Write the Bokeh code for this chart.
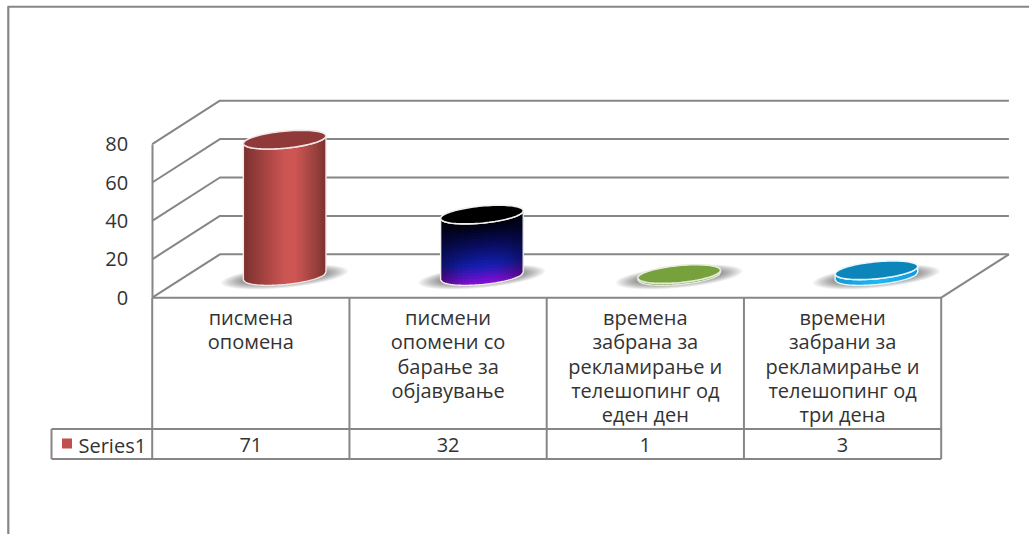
import numpy as np
from bokeh.plotting import figure
from bokeh.embed import file_html
from bokeh.resources import INLINE
from bokeh.core.properties import value
from bokeh.models import LinearAxis, FixedTicker, Range1d

# ---- data ----
categories = ["писмена\nопомена",
              "писмени\nопомени со\nбарање за\nобјавување",
              "времена\nзабрана за\nрекламирање и\nтелешопинг од\nеден ден",
              "времени\nзабрани за\nрекламирање и\nтелешопинг од\nтри дена"]
series_name = "Series1"
series_values = [71, 32, 1, 3]
y_ticks = [0, 20, 40, 60, 80]

# ---- scale geometry (pixels per unit, used to set ranges) ----
W, H = 1029, 534
CAT_W = 197.25
X_LEFT = 151.7
PX_PER_VAL = 1.92
Y_ZERO = 297.2
DEPTH_X = 67.7
DEPTH_Y = 43.4

def X(px):
    return (np.asarray(px, dtype=float) - X_LEFT) / CAT_W - 0.5

def Y(py):
    return (Y_ZERO - np.asarray(py, dtype=float)) / PX_PER_VAL

p = figure(width=W, height=H, output_backend="svg", toolbar_location=None,
           x_range=Range1d(float(X(0)), float(X(W))),
           y_range=Range1d(float(Y(H)), float(Y(0))),
           x_axis_location=None, y_axis_location=None,
           min_border=0, min_border_left=0, min_border_right=0,
           min_border_top=0, min_border_bottom=0,
           margin=(0, 0, 0, 0))
p.grid.visible = False
p.outline_line_color = None
p.background_fill_color = "white"
p.border_fill_color = "white"

GRID = "#868686"
TXT = "#333333"
FONT = value("Open Sans")
DX = DEPTH_X / CAT_W
DY = DEPTH_Y / PX_PER_VAL
x_front = -0.5
x_end = len(categories) - 0.5

# outer frame of the picture
p.line([X(7), X(W)], [Y(6.3), Y(6.3)], line_color=GRID, line_width=2)
p.line([X(7.8), X(7.8)], [Y(6.3), Y(H)], line_color=GRID, line_width=2.2)

# walls and floor
for t in y_ticks:
    p.line([x_front, x_front + DX, x_end + DX], [t, t + DY, t + DY],
           line_color=GRID, line_width=2)
p.line([x_end, x_end + DX], [0, DY], line_color=GRID, line_width=2)

# value axis on the front left edge
axis = LinearAxis(fixed_location=x_front, ticker=FixedTicker(ticks=y_ticks),
                  bounds=(0, 80), axis_line_color=GRID, axis_line_width=2,
                  major_tick_line_color=None, minor_tick_line_color=None,
                  major_label_standoff=18,
                  major_label_text_font="Open Sans",
                  major_label_text_font_size="20px",
                  major_label_text_color=TXT)
p.add_layout(axis, "left")

A, B, PHI = 41.5, 8.5, np.deg2rad(5.5)

def ell(cx, cy, a, b, t):
    ex = a * np.cos(t) * np.cos(PHI) - b * np.sin(t) * np.sin(PHI)
    ey = a * np.cos(t) * np.sin(PHI) + b * np.sin(t) * np.cos(PHI)
    return cx + ex / CAT_W, cy + ey / PX_PER_VAL

def hexc(c):
    return "#%02x%02x%02x" % tuple(int(round(v)) for v in c)

def rgb(h):
    return [int(h[i:i + 2], 16) for i in (1, 3, 5)]

def stops(f, fs, cs):
    cols = np.array([rgb(c) for c in cs], dtype=float)
    return np.array([np.interp(f, fs, cols[:, k]) for k in range(3)])

def shade_red(u, v):
    return stops(u, [0, .12, .5, .62, .88, 1], ["#7b302e", "#8f3a38", "#cd5653", "#cd5653", "#96403d", "#7b302e"])

def shade_blue(u, v):
    c = stops(v, [0, .12, .3, .62, 1], ["#8c10d8", "#5a14c8", "#1420b0", "#0a0e62", "#000008"])
    return c * (1 - 0.45 * abs(2 * u - 1) ** 2.2)

def shade_green(u, v):
    return stops(u, [0, .5, 1], ["#5a7d2c", "#77a03a", "#5a7d2c"])

def shade_cyan(u, v):
    return stops(u, [0, .5, 1], ["#0f9ad8", "#22b8f2", "#0f9ad8"])

shades = [shade_red, shade_blue, shade_green, shade_cyan]
tops = ["#8f3a38", "#000000", "#76a13c", "#0c86ba"]
rims = ["#f4e6e6", "#f0f0f0", "#e6ecdc", "#eaf6fb"]

theta = np.linspace(0, 2 * np.pi, 90)

# floor shadows
layers = 16
sx, sy = [], []
for i in range(len(series_values)):
    cx, cy = i + DX / 2, DY / 2 - 0.5
    for k in range(layers):
        f = k / (layers - 1)
        ex, ey = ell(cx, cy, 64 - 26 * f, 11 - 6 * f, theta)
        sx.append(ex)
        sy.append(ey)
p.patches(sx, sy, fill_color="#000000", fill_alpha=0.035, line_color=None)

# cylinders
NU = 42
for i, val in enumerate(series_values):
    cx, cy = i + DX / 2, DY / 2
    nv = max(1, int(round(val * PX_PER_VAL / 3))) if shades[i] is shade_blue else 1
    us = np.linspace(0, 1, NU + 1)
    ts = 2 * np.pi - np.arccos(2 * us - 1)
    bx, by = ell(cx, cy, A, B, ts)
    xs, ys, cols = [], [], []
    for a in range(NU):
        e = min(a + 2, NU)
        for b in range(nv):
            v0, v1 = b / nv * val, min(b + 2, nv) / nv * val
            xs.append([bx[a], bx[e], bx[e], bx[a]])
            ys.append([by[a] + v0, by[e] + v0, by[e] + v1, by[a] + v1])
            cols.append(hexc(shades[i]((a + .5) / NU, (b + .5) / nv)))
    p.patches(xs, ys, fill_color=cols, line_color=None)
    # body outline
    ox = np.concatenate([bx, bx[::-1]])
    oy = np.concatenate([by, by[::-1] + val])
    p.patch(ox, oy, fill_color=None, line_color=rims[i], line_width=1.4)
    # top face
    tx, ty = ell(cx, cy + val, A, B, theta)
    p.patch(tx, ty, fill_color=tops[i], line_color=rims[i], line_width=1.6)

# data table grid
ROW1 = float(Y(428.5))
ROW2 = float(Y(458.5))
LEG = float(X(51))
p.line([x_front, x_end], [0, 0], line_color=GRID, line_width=2)
p.line([LEG, x_end], [ROW1, ROW1], line_color=GRID, line_width=2)
p.line([LEG, x_end], [ROW2, ROW2], line_color=GRID, line_width=2)
p.line([LEG, LEG], [ROW1, ROW2], line_color=GRID, line_width=2)
for i in range(len(categories) + 1):
    p.line([x_front + i, x_front + i], [0, ROW2], line_color=GRID, line_width=2)

cx = list(range(len(categories)))
p.text(cx, [float(Y(303.5))] * 4, text=categories, text_font=FONT, text_font_size="20px",
       text_color=TXT, text_align="center", text_baseline="top", text_line_height=0.9)
p.text(cx, [float(Y(444.5))] * 4, text=[str(v) for v in series_values], text_font=FONT,
       text_font_size="20px", text_color=TXT, text_align="center", text_baseline="middle")
p.text([float(X(78))], [float(Y(444.5))], text=[series_name], text_font=FONT, text_font_size="20px",
       text_color=TXT, text_align="left", text_baseline="middle")
p.scatter([float(X(66.5))], [float(Y(443))], marker="square", size=10,
          fill_color="#c0504d", line_color=None)

open("out.html", "w").write(file_html(p, INLINE))
